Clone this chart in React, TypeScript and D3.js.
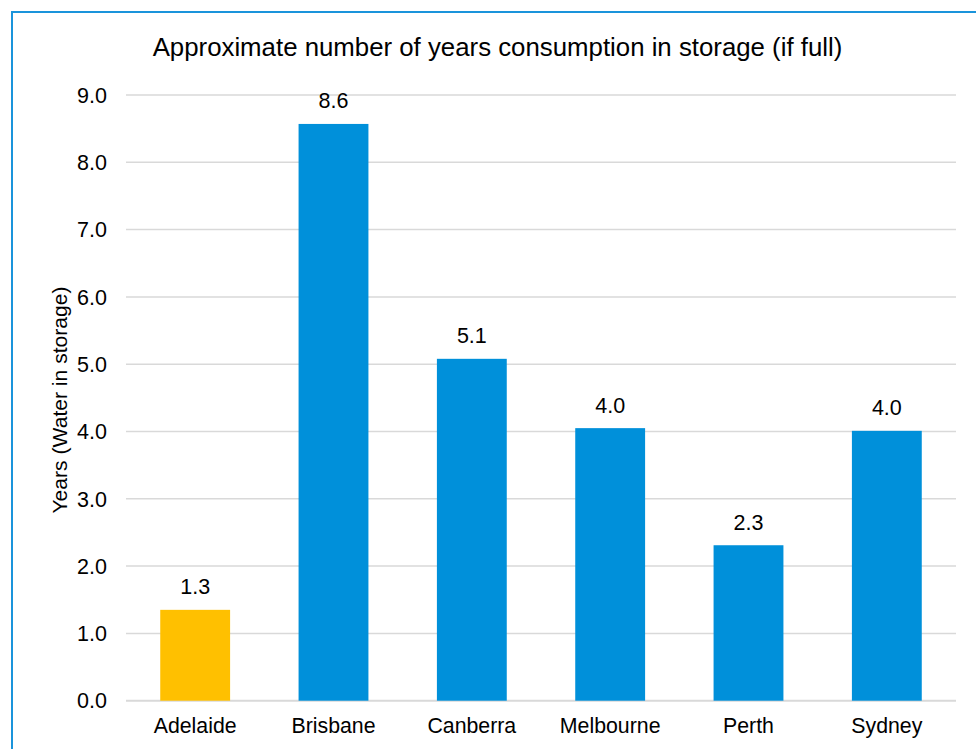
import React from "react";
import * as d3 from "d3";

const categories = ["Adelaide", "Brisbane", "Canberra", "Melbourne", "Perth", "Sydney"];
const values = [1.35, 8.57, 5.08, 4.05, 2.31, 4.01];
const labels = ["1.3", "8.6", "5.1", "4.0", "2.3", "4.0"];
const barColors = ["#FFC000", "#0090DA", "#0090DA", "#0090DA", "#0090DA", "#0090DA"];
const yTicks = [0, 1, 2, 3, 4, 5, 6, 7, 8, 9];
const title = "Approximate number of years consumption in storage (if full)";
const yTitle = "Years (Water in storage)";

const W = 976;
const H = 749;
const FONT = "'Liberation Sans', Arial, sans-serif";

export default function App() {
  const left = 126, right = 956, top = 95, bottom = 700.7;
  const x = d3.scaleBand<string>().domain(categories).range([left, right]).paddingInner(0.495).paddingOuter(0.2475);
  const y = d3.scaleLinear().domain([0, 9]).range([bottom, top]);
  return (
    <svg width={W} height={H} style={{ position: "absolute", left: 0, top: 0, background: "#fff" }}>
      <rect x={12} y={12} width={W + 20} height={H + 20} fill="#fff" stroke="#1A94DB" strokeWidth={2} />
      <text x={497.5} y={56} textAnchor="middle" fontFamily={FONT} fontSize={25.8} fill="#000">{title}</text>
      {yTicks.map((t) => (
        <g key={t}>
          <line x1={left} x2={right} y1={y(t)} y2={y(t)} stroke="#D9D9D9" strokeWidth={t === 0 ? 2 : 1.5} />
          <text x={107} y={y(t)} dy="0.36em" textAnchor="end" fontFamily={FONT} fontSize={21.5} fill="#000">{t.toFixed(1)}</text>
        </g>
      ))}
      {categories.map((c, i) => (
        <g key={c}>
          <rect x={x(c)} y={y(values[i])} width={x.bandwidth()} height={y(0) - y(values[i])} fill={barColors[i]} />
          <text x={(x(c) as number) + x.bandwidth() / 2} y={y(values[i]) - 15.5} textAnchor="middle" fontFamily={FONT} fontSize={21.5} fill="#000">{labels[i]}</text>
          <text x={(x(c) as number) + x.bandwidth() / 2} y={733} textAnchor="middle" fontFamily={FONT} fontSize={21.3} fill="#000">{c}</text>
        </g>
      ))}
      <text transform={`translate(67, 400) rotate(-90)`} textAnchor="middle" fontFamily={FONT} fontSize={21.1} fill="#000">{yTitle}</text>
    </svg>
  );
}
